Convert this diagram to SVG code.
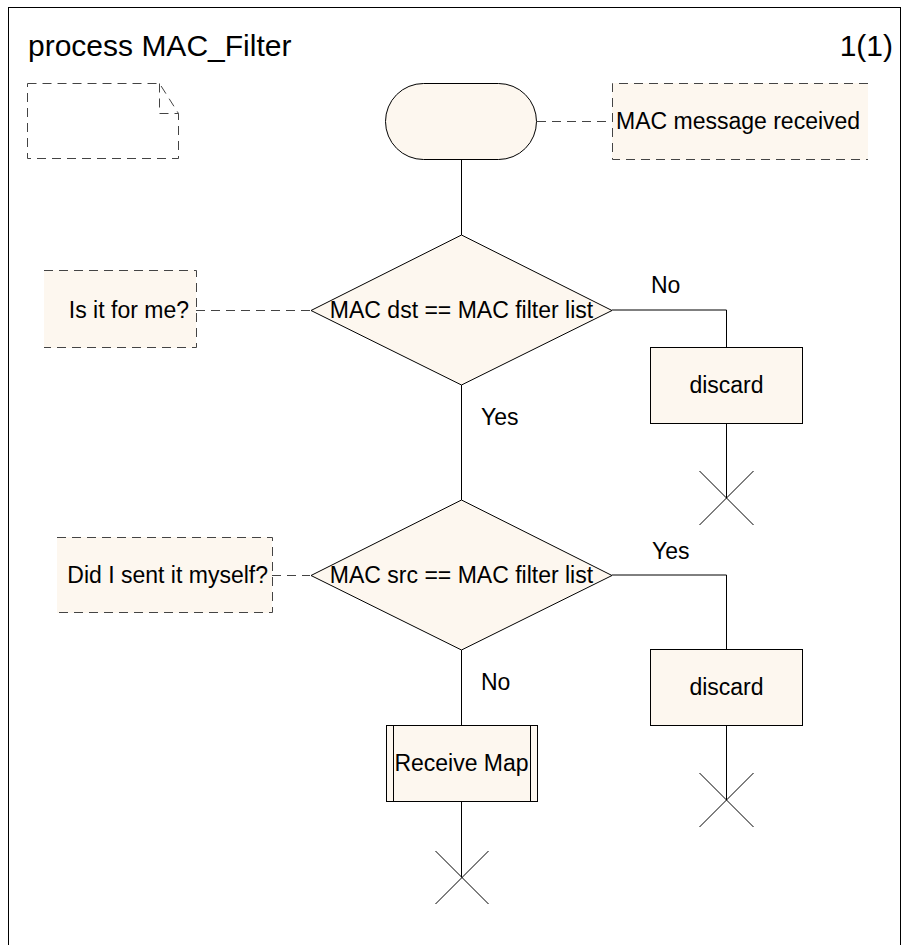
<svg xmlns="http://www.w3.org/2000/svg" width="902" height="945" viewBox="0 0 902 945">
<style>
text{font-family:"Liberation Sans",Arial,sans-serif;fill:#000}
.lbl{font-size:23px}
.ttl{font-size:30px}
.shape{fill:#FDF7EF;stroke:#000;stroke-width:1}
.line{fill:none;stroke:#000;stroke-width:1}
.dash{fill:none;stroke:#444;stroke-width:1;stroke-dasharray:9 6}
.cfill{fill:#FDF7EF;stroke:none}
</style>
<rect x="8.5" y="7.5" width="892" height="950" fill="#fff" stroke="#000" stroke-width="1"/>
<text class="ttl" x="28" y="56">process MAC_Filter</text>
<text class="ttl" x="893" y="56" text-anchor="end">1(1)</text>

<g id="connectors">
<path class="line" d="M461.5,160V235"/>
<path class="line" d="M461.5,385V500"/>
<path class="line" d="M461.5,650V725"/>
<path class="line" d="M461.5,801V877"/>
<path class="line" d="M612,310H726.5V347"/>
<path class="line" d="M726.5,423V498"/>
<path class="line" d="M612,575H726.5V649"/>
<path class="line" d="M726.5,725V800"/>
<path class="dash" d="M537,121.5H612"/>
<path class="dash" d="M196,310.5H310"/>
<path class="dash" d="M272,575.5H310"/>
<text class="lbl" x="651" y="293">No</text>
<text class="lbl" x="481" y="425">Yes</text>
<text class="lbl" x="652" y="559">Yes</text>
<text class="lbl" x="481" y="690">No</text>
</g>

<g id="text_symbol">
<path class="dash" d="M27.5,83.5H159.5L178.5,113.5V158.5H27.5Z"/>
<path class="dash" d="M159.5,83.5V113.5H178.5"/>
</g>

<g id="start">
<rect class="shape" x="385.5" y="83.5" width="151" height="76" rx="38" ry="38"/>
</g>

<g id="comment_start">
<rect class="cfill" x="612" y="83" width="256" height="77"/>
<path class="dash" d="M868,83.5H612.5V159.5H868"/>
<text class="lbl" x="616" y="129">MAC message received</text>
</g>

<g id="decision1">
<path class="shape" d="M461.5,235L612,310.5L461.5,385L311,310.5Z"/>
<text class="lbl" x="461.5" y="318" text-anchor="middle">MAC dst == MAC filter list</text>
</g>

<g id="comment1">
<rect class="cfill" x="44" y="270" width="152" height="78"/>
<path class="dash" d="M44,270.5H196.5V347.5H44"/>
<text class="lbl" x="189" y="318" text-anchor="end">Is it for me?</text>
</g>

<g id="discard1">
<rect class="shape" x="650.5" y="347.5" width="152" height="76"/>
<text class="lbl" x="726.5" y="393" text-anchor="middle">discard</text>
</g>

<g id="stop1">
<path class="line" d="M699.5,471L753.5,525M753.5,471L699.5,525"/>
</g>

<g id="decision2">
<path class="shape" d="M461.5,500L612,575.5L461.5,650L311,575.5Z"/>
<text class="lbl" x="461.5" y="583" text-anchor="middle">MAC src == MAC filter list</text>
</g>

<g id="comment2">
<rect class="cfill" x="57" y="537" width="215" height="76"/>
<path class="dash" d="M57,537.5H272.5V612.5H57"/>
<text class="lbl" x="268" y="583" text-anchor="end">Did I sent it myself?</text>
</g>

<g id="discard2">
<rect class="shape" x="650.5" y="649.5" width="152" height="76"/>
<text class="lbl" x="726.5" y="695" text-anchor="middle">discard</text>
</g>

<g id="stop2">
<path class="line" d="M699.5,773L753.5,827M753.5,773L699.5,827"/>
</g>

<g id="receive_map">
<rect class="shape" x="386.5" y="725.5" width="151" height="76"/>
<path class="line" d="M393.5,725.5V801.5M530.5,725.5V801.5"/>
<text class="lbl" x="461.5" y="771" text-anchor="middle">Receive Map</text>
</g>

<g id="stop3">
<path class="line" d="M435.5,851L488.5,904M488.5,851L435.5,904"/>
</g>
</svg>
